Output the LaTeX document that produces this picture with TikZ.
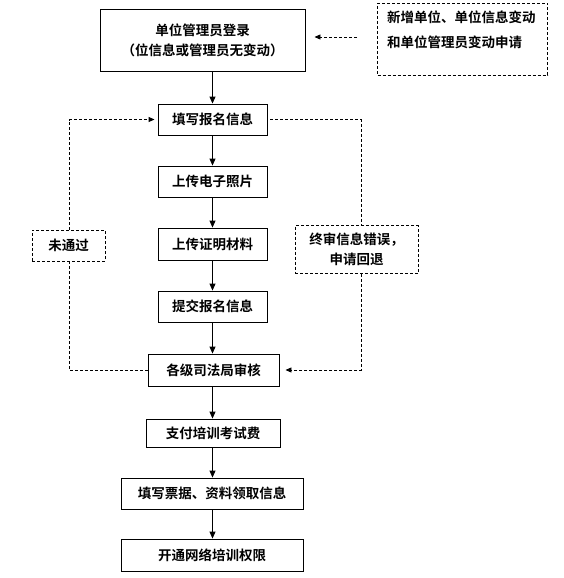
\documentclass[tikz,border=0pt]{standalone}
\usepackage{fontspec}
\setmainfont{Noto Sans CJK SC}[BoldFont={* Bold}]
\usetikzlibrary{arrows.meta}
\begin{document}
\begin{tikzpicture}[x=1pt,y=-1pt,
  every node/.style={font=\bfseries\fontsize{13.5}{20}\selectfont, inner sep=0pt, align=center},
  box/.style={draw, line width=0.9pt},
  dbox/.style={draw, line width=0.9pt, dash pattern=on 3pt off 2pt},
  arr/.style={line width=0.9pt, -{Triangle[length=7pt,width=6pt]}},
  dline/.style={line width=0.9pt, dash pattern=on 3pt off 2pt},
  darr/.style={line width=0.9pt, dash pattern=on 3pt off 2pt, -{Triangle[length=6pt,width=5pt]}}]
\useasboundingbox (0,0) rectangle (563,578);
% main boxes
\node[box, minimum width=205pt, minimum height=62pt] (b1) at (202.5,40) {单位管理员登录\\（位信息或管理员无变动）};
\node[box, minimum width=109pt, minimum height=31pt] (b2) at (212.5,119.5) {填写报名信息};
\node[box, minimum width=109pt, minimum height=31pt] (b3) at (212.5,181.5) {上传电子照片};
\node[box, minimum width=109pt, minimum height=32pt] (b4) at (212.5,244) {上传证明材料};
\node[box, minimum width=109pt, minimum height=31pt] (b5) at (212.5,306.5) {提交报名信息};
\node[box, minimum width=131pt, minimum height=32pt] (b6) at (213.5,370) {各级司法局审核};
\node[box, minimum width=134pt, minimum height=28pt] (b7) at (213,433) {支付培训考试费};
\node[box, minimum width=182pt, minimum height=31pt] (b8) at (212,493.5) {填写票据、资料领取信息};
\node[box, minimum width=182pt, minimum height=32pt] (b9) at (212,555) {开通网络培训权限};
% side boxes
\node[dbox, minimum width=170pt, minimum height=72pt] (tr) at (462.5,39) {};
\node[anchor=west, align=left, font=\bfseries\fontsize{13.5}{24.5}\selectfont] (trt) at (387,30) {新增单位、单位信息变动\\和单位管理员变动申请};
\node[dbox, minimum width=73pt, minimum height=31pt] (l) at (68.5,245.5) {未通过};
\node[dbox, minimum width=123pt, minimum height=48pt] (r) at (356.5,249.5) {终审信息错误，\\申请回退};
% helper coordinates
\coordinate (ay) at (0,37);
\coordinate (lx) at (69,0);
\coordinate (rx) at (361,0);
% solid arrows
\draw[arr] (b1.south -| b2.north) -- (b2.north);
\draw[arr] (b2) -- (b3);
\draw[arr] (b3) -- (b4);
\draw[arr] (b4) -- (b5);
\draw[arr] (b5.south) -- (b5.south |- b6.north);
\draw[arr] (b6.south -| b5.south) -- (b5.south |- b7.north);
\draw[arr] (b7.south -| b5.south) -- (b5.south |- b8.north);
\draw[arr] (b8.south -| b5.south) -- (b5.south |- b9.north);
% dashed arrows
\draw[darr, shorten <=20pt, shorten >=9pt] (tr.west |- ay) -- (b1.east |- ay);
\draw[dline] (b6.west) -- (lx |- b6.west) -- (lx |- l.south);
\draw[darr, shorten >=3pt] (lx |- l.north) -- (lx |- b2.west) -- (b2.west);
\draw[dline, shorten <=3pt] (b2.east) -- (rx |- b2.east) -- (rx |- r.north);
\draw[darr, shorten >=6pt] (rx |- r.south) -- (rx |- b6.east) -- (b6.east);
\end{tikzpicture}
\end{document}
